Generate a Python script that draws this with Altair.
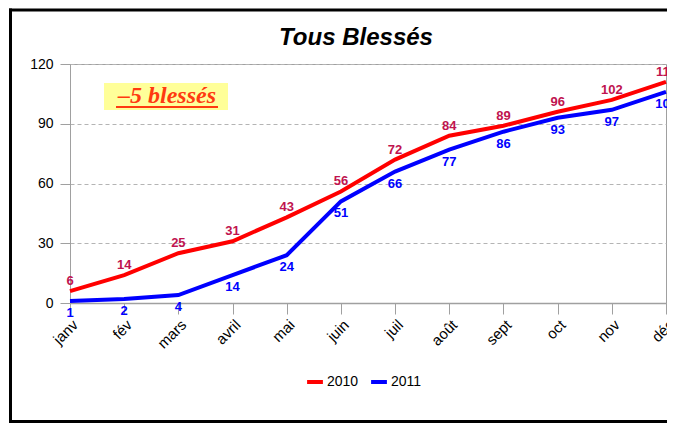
import altair as alt
import pandas as pd

months = ["janv", "fév", "mars", "avril", "mai", "juin", "juil", "août", "sept", "oct", "nov", "déc"]
vals_2010 = [6, 14, 25, 31, 43, 56, 72, 84, 89, 96, 102, 111]
vals_2011 = [1, 2, 4, 14, 24, 51, 66, 77, 86, 93, 97, 106]
series = ["2010", "2011"]
y_ticks = [0, 30, 60, 90, 120]

rows = []
for s, vals in zip(series, [vals_2010, vals_2011]):
    for m, v in zip(months, vals):
        rows.append({"mois": m, "valeur": v, "serie": s})
df = pd.DataFrame(rows)

FONT = "Liberation Sans"

x_enc = alt.X("mois:N", sort=months, scale=alt.Scale(type="point", padding=0),
              axis=alt.Axis(title=None, labelAngle=-45, labelFontSize=15, labelFont=FONT,
                            labelColor="black", tickSize=11, tickColor="#a0a0a0",
                            domainColor="#a0a0a0", domainWidth=1.5, grid=False, labelPadding=3))
y_enc = alt.Y("valeur:Q", scale=alt.Scale(domain=[0, 120], nice=False),
              axis=alt.Axis(title=None, values=y_ticks, labelFontSize=14, labelFont=FONT,
                            labelColor="black", tickSize=10, tickColor="#a0a0a0",
                            domainColor="#a0a0a0", grid=True, gridColor="#b4b4b4",
                            gridDash=[4, 3], labelPadding=7))

base = alt.Chart(df)

lines = base.mark_line(strokeWidth=4).encode(
    x=x_enc, y=y_enc,
    color=alt.Color("serie:N", scale=alt.Scale(domain=series, range=["#ff0000", "#0000ff"]),
                    legend=alt.Legend(title=None, orient="none", legendX=235, legendY=308,
                                      direction="horizontal", symbolType="stroke",
                                      symbolStrokeWidth=4, symbolSize=250,
                                      labelFontSize=14, labelFont=FONT, labelColor="black",
                                      columnPadding=4, labelOffset=2))
)

lab_2010 = base.transform_filter(alt.datum.serie == "2010").mark_text(
    fontSize=13, fontWeight="bold", font=FONT, color="#c0134f", dy=-10
).encode(x=alt.X("mois:N", sort=months), y="valeur:Q", text="valeur:Q")

lab_2011 = base.transform_filter(alt.datum.serie == "2011").mark_text(
    fontSize=13, fontWeight="bold", font=FONT, color="#0000ff", dy=12
).encode(x=alt.X("mois:N", sort=months), y="valeur:Q", text="valeur:Q")

one = pd.DataFrame({"a": [0]})
deco = alt.Chart(one)

border_left = deco.mark_rect(fill="black").encode(
    x=alt.value(-61), x2=alt.value(-58), y=alt.value(-55.5), y2=alt.value(359))
border_top = deco.mark_rule(stroke="black", strokeWidth=3).encode(
    x=alt.value(-61), x2=alt.value(600), y=alt.value(-54))
border_bottom = deco.mark_rule(stroke="black", strokeWidth=3).encode(
    x=alt.value(-61), x2=alt.value(600), y=alt.value(357.5))

title = deco.mark_text(text="Tous Blessés", fontSize=24, fontStyle="italic",
                       fontWeight="bold", font=FONT, color="black", baseline="middle").encode(
    x=alt.value(286), y=alt.value(-26))

box = deco.mark_rect(fill="#ffff99").encode(
    x=alt.value(34), x2=alt.value(158), y=alt.value(19), y2=alt.value(46))
box_text = deco.mark_text(text="–5 blessés", fontSize=24, fontStyle="italic", fontWeight="bold",
                          font="Liberation Serif", color="#ff3a10", baseline="alphabetic").encode(
    x=alt.value(97), y=alt.value(39))
underline = deco.mark_rule(stroke="#ff3a10", strokeWidth=2).encode(
    x=alt.value(46), x2=alt.value(148), y=alt.value(43))

chart = alt.layer(border_left, border_top, border_bottom, box, box_text, underline, title,
                  lines, lab_2010, lab_2011).properties(
    width=596, height=239,
    autosize=alt.AutoSizeParams(type="none"),
    padding={"left": 62, "top": 56, "right": 1, "bottom": 121},
    background="white",
).configure_view(stroke="#a0a0a0", strokeWidth=1)

chart.save("out.html", embed_options={"renderer": "svg", "actions": False})
